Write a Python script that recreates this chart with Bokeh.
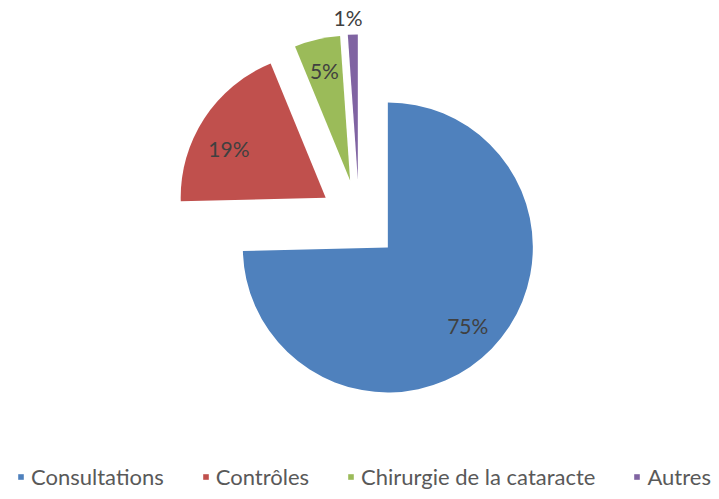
import numpy as np
from bokeh.plotting import figure
from bokeh.models import ColumnDataSource, Legend, LegendItem, Range1d
from bokeh.core.properties import value
from bokeh.embed import file_html
from bokeh.resources import INLINE

# ---- data ----
categories = ["Consultations", "Contrôles", "Chirurgie de la cataracte", "Autres"]
shares = [74.6, 19.2, 5.1, 1.1]
pct_labels = ["75%", "19%", "5%", "1%"]

# ---- style / layout ----
colors = ["#4F81BD", "#C0504D", "#9BBB59", "#8064A2"]
W, H = 711, 491
cx, cy = 358.7, H - 219.0
R = 145.0
explode = 40.0
label_frac = [0.77, 0.75, 0.78, 1.12]
label_shift_deg = [0.0, -6.0, 0.0, -1.5]
FONT = "Lato"

frac = np.array(shares) / sum(shares)
theta_end = np.cumsum(frac) * 2 * np.pi          # clockwise from 12 o'clock
theta_start = theta_end - frac * 2 * np.pi
mid = (theta_start + theta_end) / 2
wx = cx + explode * np.sin(mid)
wy = cy + explode * np.cos(mid)
lang = mid + np.radians(label_shift_deg)
lx = wx + np.array(label_frac) * R * np.sin(lang)
ly = wy + np.array(label_frac) * R * np.cos(lang)

src = ColumnDataSource(dict(
    x=wx, y=wy, start=np.pi / 2 - theta_start, end=np.pi / 2 - theta_end,
    color=colors, cat=categories, lx=lx, ly=ly, txt=pct_labels,
))

p = figure(width=W, height=H, x_range=Range1d(0, W), y_range=Range1d(0, H),
           output_backend="svg", toolbar_location=None,
           x_axis_location=None, y_axis_location=None, min_border=0)
p.grid.visible = False
p.outline_line_color = None
p.background_fill_color = "white"
p.border_fill_color = "white"

r = p.wedge(x="x", y="y", radius=R, start_angle="start", end_angle="end",
            direction="clock", fill_color="color", line_color=None, source=src)

p.text(x="lx", y="ly", text="txt", source=src, text_align="center",
       text_baseline="middle", text_font=value(FONT), text_font_size="21px",
       text_color="#404040")

items = [LegendItem(label=c, renderers=[r], index=i) for i, c in enumerate(categories)]
legend = Legend(items=items, orientation="horizontal", location=(17, 1),
                glyph_width=7, glyph_height=7, label_standoff=7, spacing=38,
                padding=0, margin=0, label_height=24,
                label_text_font=FONT, label_text_font_size="22px",
                label_text_color="#595959", border_line_color=None,
                background_fill_alpha=0)
p.add_layout(legend, "center")

open("out.html", "w").write(file_html(p, INLINE))
